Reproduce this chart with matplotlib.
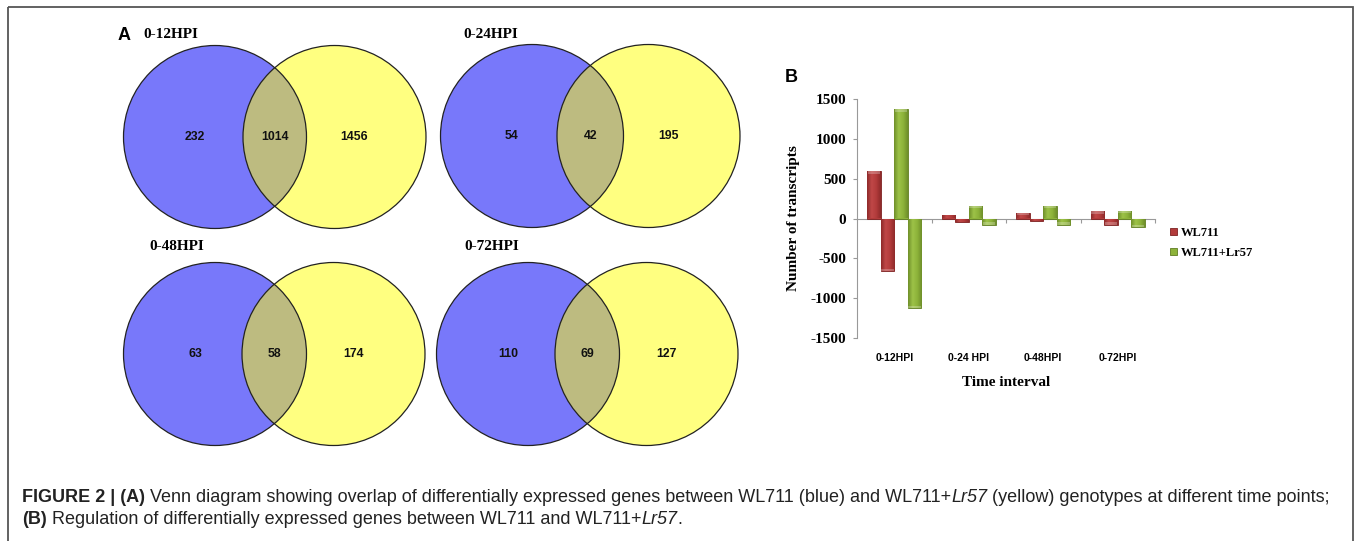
import matplotlib
matplotlib.use("Agg")
import matplotlib.pyplot as plt
import numpy as np
from matplotlib.patches import Circle, Rectangle
from matplotlib.transforms import blended_transform_factory
from matplotlib.colors import LinearSegmentedColormap

# ---------------- data ----------------
venn_titles = ["0-12HPI", "0-24HPI", "0-48HPI", "0-72HPI"]
venn_blue_only = [232, 54, 63, 110]
venn_overlap = [1014, 42, 58, 69]
venn_yellow_only = [1456, 195, 174, 127]

categories = ["0-12HPI", "0-24 HPI", "0-48HPI", "0-72HPI"]
wl711_up = [590, 40, 75, 88]
wl711_down = [-663, -40, -30, -76]
lr57_up = [1370, 155, 155, 97]
lr57_down = [-1125, -76, -76, -110]
series_names = ["WL711", "WL711+Lr57"]
yticks = [-1500, -1000, -500, 0, 500, 1000, 1500]

W, H = 1360, 541
fig = plt.figure(figsize=(W / 100, H / 100), dpi=100)
fig.patch.set_facecolor("white")

# full-figure pixel axes for Venn + frame
pa = fig.add_axes([0, 0, 1, 1])
pa.set_xlim(0, W)
pa.set_ylim(H, 0)
pa.axis("off")

pa.add_patch(Rectangle((8, 7), 1345, 560, fill=False, edgecolor="#555555", lw=1.3, zorder=1))

BLUE = "#7878fa"
YELLOW = "#ffff80"
OVER = "#bdbb80"
r = 91.5
centers = [((215, 137), (334.5, 137)), ((532, 136), (648.5, 136)),
           ((215, 354), (333.5, 354)), ((528, 354), (646.5, 354))]
title_pos = [(143, 35), (463, 35), (149, 246), (464, 246)]

for i in range(4):
    (bx, by), (yx, yy) = centers[i]
    pa.add_patch(Circle((bx, by), r, facecolor=BLUE, edgecolor="none", zorder=2))
    pa.add_patch(Circle((yx, yy), r, facecolor=YELLOW, edgecolor="none", zorder=2))
    clipc = Circle((bx, by), r, transform=pa.transData, facecolor="none", edgecolor="none")
    pa.add_patch(clipc)
    co = Circle((yx, yy), r, facecolor=OVER, edgecolor="none", zorder=3)
    pa.add_patch(co)
    co.set_clip_path(clipc)
    pa.add_patch(Circle((bx, by), r, facecolor="none", edgecolor="#222222", lw=0.9, zorder=4))
    pa.add_patch(Circle((yx, yy), r, facecolor="none", edgecolor="#222222", lw=0.9, zorder=4))
    fs = 8.8
    kw = dict(ha="center", va="center", fontsize=fs, fontweight="bold",
              family="Liberation Sans", zorder=5, color="#111111")
    pa.text(bx - 20, by, str(venn_blue_only[i]), **kw)
    pa.text((bx + yx) / 2, by, str(venn_overlap[i]), **kw)
    pa.text(yx + 20, yy, str(venn_yellow_only[i]), **kw)
    tx, ty = title_pos[i]
    pa.text(tx, ty, venn_titles[i], ha="left", va="center", fontsize=11, fontweight="bold",
            family="Liberation Serif", zorder=5)

pa.text(118, 35, "A", ha="left", va="center", fontsize=13, fontweight="bold",
        family="Liberation Sans", zorder=5)
pa.text(785, 77, "B", ha="left", va="center", fontsize=13, fontweight="bold",
        family="Liberation Sans", zorder=5)

# ---------------- bar chart ----------------
left, right, ytop, ybot = 857, 1155, 99, 338
ax = fig.add_axes([left / W, 1 - ybot / H, (right - left) / W, (ybot - ytop) / H])
ax.set_facecolor("none")
ax.set_xlim(0, 4)
ax.set_ylim(-1500, 1500)

x = np.arange(len(categories)) + 0.5
bw = 0.18
RED, RED_E = "#b23b3b", "#7d2222"
GRN, GRN_E = "#8db33a", "#5f7d22"
red_cmap = LinearSegmentedColormap.from_list("r", ["#8e2a2a", "#c04848", "#b23b3b", "#8e2a2a"])
grn_cmap = LinearSegmentedColormap.from_list("g", ["#6f8f2a", "#9dc248", "#8db33a", "#6f8f2a"])

groups = []
b1 = ax.bar(x - 1.5 * bw, wl711_up, bw, color=RED, edgecolor=RED_E, lw=0.6, zorder=3)
b1d = ax.bar(x - 0.5 * bw, wl711_down, bw, color=RED, edgecolor=RED_E, lw=0.6, zorder=3)
b2 = ax.bar(x + 0.5 * bw, lr57_up, bw, color=GRN, edgecolor=GRN_E, lw=0.6, zorder=3)
b2d = ax.bar(x + 1.5 * bw, lr57_down, bw, color=GRN, edgecolor=GRN_E, lw=0.6, zorder=3)

grad = np.linspace(0, 1, 64).reshape(1, -1)
for cont, cmap in [(b1, red_cmap), (b1d, red_cmap), (b2, grn_cmap), (b2d, grn_cmap)]:
    for p in cont.patches:
        x0, y0 = p.get_x(), p.get_y()
        w, h = p.get_width(), p.get_height()
        im = ax.imshow(grad, cmap=cmap, aspect="auto", zorder=3.5,
                       extent=(x0, x0 + w, min(y0, y0 + h), max(y0, y0 + h)),
                       interpolation="bilinear")
        im.set_clip_path(p)
        # light bevel at the outer end of the bar
        end = y0 + h
        cap = 28 if h > 0 else -28
        if abs(h) > 40:
            ax.bar(x0 + w / 2, cap, w * 0.92, bottom=end - cap,
                   color="white", alpha=0.25, lw=0, zorder=3.6)
ax.set_xlim(0, 4)
ax.set_ylim(-1500, 1500)

for s in ["top", "right"]:
    ax.spines[s].set_visible(False)
ax.spines["bottom"].set_position(("data", 0))
ax.spines["bottom"].set_color("#999999")
ax.spines["left"].set_color("#999999")
ax.spines["bottom"].set_zorder(2)
ax.set_xticks([1, 2, 3, 4])
ax.set_xticklabels([])
ax.tick_params(axis="x", direction="out", length=3, color="#999999")
ax.set_yticks(yticks)
ax.set_yticklabels([str(v) for v in yticks], fontsize=11, fontweight="bold", family="Liberation Serif")
ax.tick_params(axis="y", direction="out", length=3, color="#999999", pad=5)

trans = blended_transform_factory(ax.transData, ax.transAxes)
for xi, lab in zip(x, categories):
    ax.text(xi, -20 / (ybot - ytop), lab, transform=trans, ha="center", va="center",
            fontsize=7.5, fontweight="bold", family="Liberation Sans")

ax.set_ylabel("Number of transcripts", fontsize=11, fontweight="bold", family="Liberation Serif")
ax.yaxis.set_label_coords((800 - left) / (right - left), 0.5)
fig.text(1006 / W, 1 - 383 / H, "Time interval", ha="center", va="center", fontsize=11,
         fontweight="bold", family="Liberation Serif")

ax.legend([b1, b2], series_names, loc="upper left",
          bbox_to_anchor=(1170 / W, 1 - 227 / H), bbox_transform=fig.transFigure,
          frameon=False, handlelength=0.55, handleheight=0.55, handletextpad=0.3,
          labelspacing=0.65, borderpad=0, borderaxespad=0,
          prop={"family": "Liberation Serif", "weight": "bold", "size": 9})

# ---------------- caption ----------------
renderer = fig.canvas.get_renderer()
CAP_COLOR = "#222222"

def run_width(txt, fs, weight, style):
    t = fig.text(0, 0, txt, fontsize=fs, fontweight=weight, fontstyle=style,
                 family="Liberation Sans")
    w = t.get_window_extent(renderer).width
    t.remove()
    return w

def space_width(fs):
    return run_width("x x", fs, "normal", "normal") - run_width("xx", fs, "normal", "normal")

def line_width(runs, fs):
    sp = space_width(fs)
    total = 0
    for k, (txt, wt, st, space) in enumerate(runs):
        if space and k > 0:
            total += sp
        total += run_width(txt, fs, wt, st)
    return total

def draw_line(runs, fs, x0, yc):
    sp = space_width(fs)
    xp = x0
    for k, (txt, wt, st, space) in enumerate(runs):
        if space and k > 0:
            xp += sp
        t = fig.text(xp / W, 1 - yc / H, txt, fontsize=fs, fontweight=wt, fontstyle=st,
                     family="Liberation Sans", ha="left", va="center", color=CAP_COLOR)
        xp += t.get_window_extent(renderer).width

line1 = [("FIGURE 2 | (A)", "bold", "normal", True),
         ("Venn diagram showing overlap of differentially expressed genes between WL711 (blue) and WL711+",
          "normal", "normal", True),
         ("Lr57", "normal", "italic", False),
         ("(yellow) genotypes at different time points;", "normal", "normal", True)]
line2 = [("(B)", "bold", "normal", True),
         ("Regulation of differentially expressed genes between WL711 and WL711+", "normal", "normal", True),
         ("Lr57", "normal", "italic", False),
         (".", "normal", "normal", False)]

fs0 = 12
w0 = line_width(line1, fs0)
fs = fs0 * (1330 - 22) / w0
draw_line(line1, fs, 22, 498)
draw_line(line2, fs, 22, 520)

fig.savefig("out.png", dpi=100, facecolor="white")
